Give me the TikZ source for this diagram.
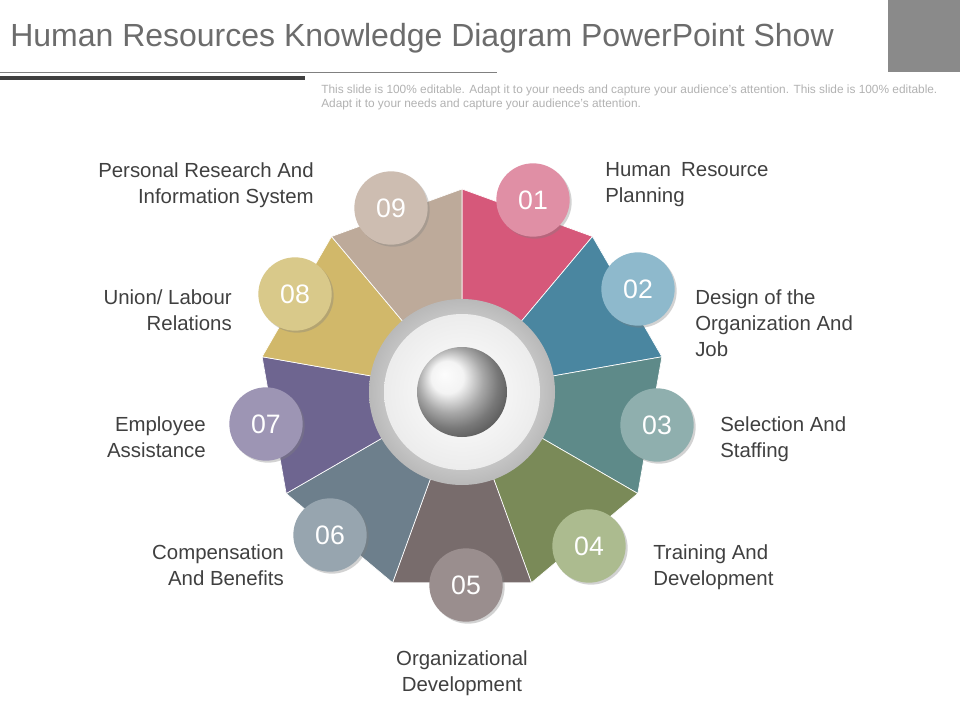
\documentclass[tikz,border=0pt]{standalone}
\usepackage{fontspec}
\setmainfont{Liberation Sans}
\usetikzlibrary{shadows,calc}
\definecolor{s1}{HTML}{D6587A}\definecolor{c1}{HTML}{E08FA5}
\definecolor{s2}{HTML}{4A86A0}\definecolor{c2}{HTML}{8EB9CC}
\definecolor{s3}{HTML}{5E8A89}\definecolor{c3}{HTML}{8FAFAE}
\definecolor{s4}{HTML}{7A8A58}\definecolor{c4}{HTML}{ACBB8F}
\definecolor{s5}{HTML}{786C6C}\definecolor{c5}{HTML}{9A8E8E}
\definecolor{s6}{HTML}{6D7F8C}\definecolor{c6}{HTML}{97A5AF}
\definecolor{s7}{HTML}{6E6590}\definecolor{c7}{HTML}{9D95B4}
\definecolor{s8}{HTML}{D1B86A}\definecolor{c8}{HTML}{D9C98A}
\definecolor{s9}{HTML}{BDAA9A}\definecolor{c9}{HTML}{CDBDB1}
\definecolor{txt}{HTML}{404040}
\tikzset{
 num/.style={circle,minimum size=55,inner sep=0,text=white,font=\fontsize{20}{20}\selectfont,drop shadow={shadow xshift=1.5pt,shadow yshift=-1.5pt,opacity=0.35}},
 lblL/.style={align=left,anchor=north west,text=txt,font=\fontsize{15.3}{19.5}\selectfont,inner sep=0},
 lblR/.style={align=right,anchor=north east,text=txt,font=\fontsize{15.3}{19.5}\selectfont,inner sep=0},
}
\begin{document}
\begin{tikzpicture}[x=0.75pt,y=-0.75pt]
\useasboundingbox (0,0) rectangle (960,720);
\fill[white] (0,0) rectangle (960,720);
\fill[gray!85!black!80] (888,0) rectangle (960,72);
\node[anchor=west,text=gray!85!black,font=\fontsize{24}{24}\selectfont,inner sep=0] (title) at (10,38) {Human Resources Knowledge Diagram PowerPoint Show};
\draw[gray,line width=0.6pt] (0,72) -- (497,72);
\draw[txt,line width=2.3pt] (0,78) -- (305,78);
\node[anchor=north west,align=left,text=gray!60,font=\fontsize{8.9}{10.5}\selectfont,inner sep=0] (sub) at (321,85) {This slide is 100\% editable. Adapt it to your needs and capture your audience's attention. This slide is 100\% editable.\\Adapt it to your needs and capture your audience's attention.};
\coordinate (O) at (462,392);
\def\R{203}
\foreach \k in {1,...,9}{
  \pgfmathsetmacro{\aa}{-90+40*(\k-1)}
  \pgfmathsetmacro{\ab}{-90+40*\k}
  \fill[s\k,draw=white,line width=0.5pt] (O) -- ($(O)+(\aa:\R)$) -- ($(O)+(\ab:\R)$) -- cycle;
}
\shade[inner color=white,outer color=gray!55] (O) circle[radius=93];
\shade[inner color=white,outer color=gray!15] (O) circle[radius=78];
\shade[ball color=gray!12] (O) circle[radius=45];
\node[num,fill=c1] (n1) at (533,200) {01};
\node[num,fill=c2] (n2) at (638,289) {02};
\node[num,fill=c3] (n3) at (657,425) {03};
\node[num,fill=c4] (n4) at (589,546) {04};
\node[num,fill=c5] (n5) at (466,585) {05};
\node[num,fill=c6] (n6) at (330,535) {06};
\node[num,fill=c7] (n7) at (266,424) {07};
\node[num,fill=c8] (n8) at (295,294) {08};
\node[num,fill=c9] (n9) at (391,208) {09};
\node[lblL] (l1) at (605,162) {Human\enspace Resource\\Planning};
\node[lblL] (l2) at (695,289) {Design of the\\Organization And\\Job};
\node[lblL] (l3) at (720,416) {Selection And\\Staffing};
\node[lblL] (l4) at (653,544) {Training And\\Development};
\node[align=center,anchor=north,text=txt,font=\fontsize{15.3}{19.5}\selectfont,inner sep=0] (l5) at (462,650) {Organizational\\Development};
\node[lblR] (l6) at (284,544) {Compensation\\And Benefits};
\node[lblR] (l7) at (206,416) {Employee\\Assistance};
\node[lblR] (l8) at (232,289) {Union/ Labour\\Relations};
\node[lblR] (l9) at (314,162) {Personal Research And\\Information System};
\end{tikzpicture}
\end{document}
